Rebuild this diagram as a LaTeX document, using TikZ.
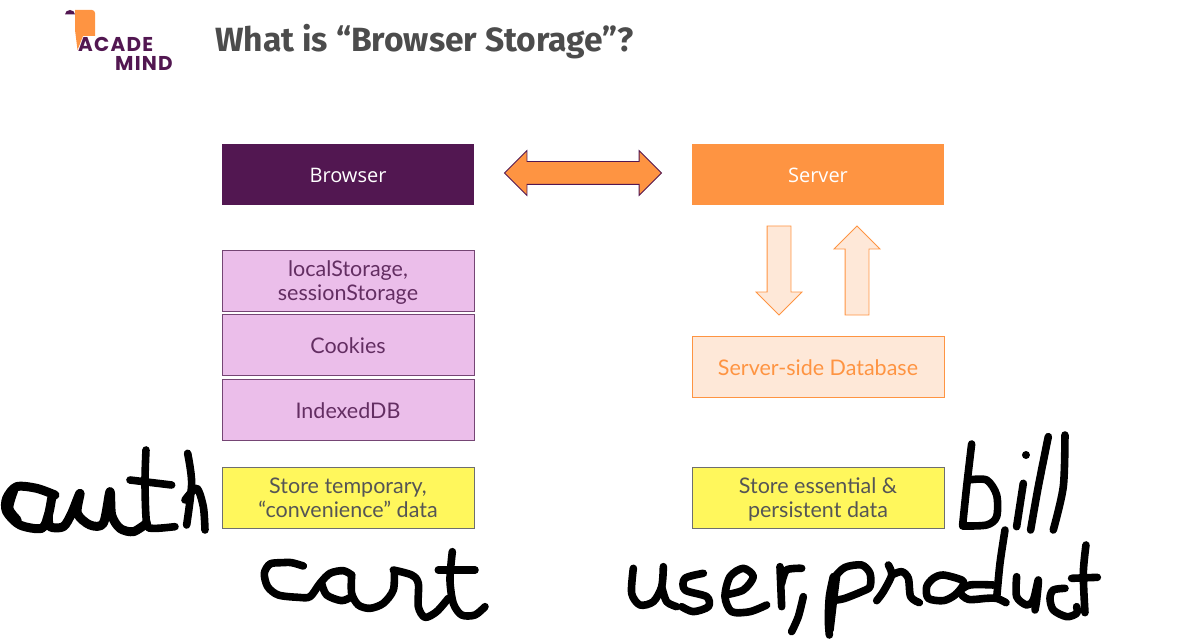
\documentclass[tikz,border=0pt]{standalone}
\usepackage{fontspec}
\setmainfont{Lato}
\newfontfamily\titlefont{Fira Sans}
\newfontfamily\headfont{Open Sans}
\newfontfamily\logofont[LetterSpace=6]{Poppins}
\usetikzlibrary{arrows.meta,positioning,calc,shapes.arrows}
\definecolor{browsercolor}{RGB}{82,23,81}
\definecolor{servercolor}{RGB}{254,148,66}
\definecolor{palecolor}{RGB}{254,232,216}
\definecolor{pinkcolor}{RGB}{235,190,234}
\definecolor{notecolor}{RGB}{255,247,92}
\definecolor{greycolor}{RGB}{85,85,85}
\tikzset{
  headbox/.style={minimum width=252pt, minimum height=61pt, inner sep=0pt, outer sep=0pt,
    align=center, font=\headfont\fontsize{20}{24}\selectfont, text=white,
    text height=20pt, text depth=3pt},
  storebox/.style={draw=browsercolor!80!white, line width=0.7pt, fill=pinkcolor, minimum width=252pt,
    minimum height=61pt, inner sep=0pt, outer sep=0pt, align=center,
    font=\fontsize{21.5}{24}\selectfont, text=browsercolor!90!white,
    execute at begin node={\rule{0pt}{19pt}}},
  notebox/.style={draw=greycolor!85!white, line width=0.9pt, fill=notecolor, minimum width=252pt,
    minimum height=61pt, inner sep=0pt, outer sep=0pt, align=center,
    font=\fontsize{21.5}{24}\selectfont, text=greycolor,
    execute at begin node={\rule{0pt}{19pt}}},
  dbarrow/.style={single arrow, draw=servercolor, line width=0.8pt, fill=palecolor, inner xsep=11.5pt,
    inner ysep=0pt, minimum height=89pt, single arrow head extend=11pt},
  inkln/.style={line width=7.6pt, line cap=round, line join=round, black},
}
\begin{document}
\begin{tikzpicture}[x=1pt, y=-1pt]
    \useasboundingbox (0,0) rectangle (1180,639);
    \node[headbox, fill=browsercolor, anchor=north west] (browser) at (222,144) {Browser};
    \node[headbox, fill=servercolor, right=218pt of browser] (server) {Server};
    \node[storebox, below=45pt of browser] (webstore) {localStorage,\\\smash{sessionStorage}};
    \node[storebox, below=3pt of webstore] (cookies) {Cookies};
    \node[storebox, below=4pt of cookies] (indexeddb) {IndexedDB};
    \node[notebox, below=27pt of indexeddb] (tempnote) {Store temporary,\\“convenience” data};
    \node[storebox, draw=servercolor, fill=palecolor, text=servercolor, below=131pt of server]
      (database) {Server-side Database};
    \node[notebox, below=70pt of database] (keepnote) {Store essential \&\\\smash{persistent data}};
    \node[double arrow, draw=browsercolor, line width=0.8pt, fill=servercolor, inner xsep=0pt,
      inner ysep=11pt, minimum height=157pt, double arrow head extend=11pt]
      (linkarrow) at ($(browser)!0.5!(server)+(0,-1.5)$) {};
    \node[dbarrow, shape border rotate=270, xshift=-39pt, yshift=6pt] (downarrow) at ($(server)!0.5!(database)$) {};
    \node[dbarrow, shape border rotate=90, xshift=39pt, yshift=-6pt] (uparrow) at ($(server)!0.5!(database)$) {};
    \node[anchor=west, inner sep=0pt, text=greycolor!90!black,
      font=\titlefont\bfseries\fontsize{33.6}{36}\selectfont] (title) at (215,42) {What is “Browser Storage”?};
    \fill[servercolor] (75,14.5) -- (75,10) -- (92,10) arc (-90:0:3) -- (95,36) -- (83,36) -- (77.5,50) -- (75,30) -- cycle;
    \fill[browsercolor] (65,14.5) arc (180:360:5 and 4.5) -- cycle;
    \node[anchor=base west, inner sep=0pt, text=browsercolor, font=\logofont\bfseries\fontsize{20}{20}\selectfont]
      (logotop) at (78,52) {ACADE};
    \node[anchor=base west, inner sep=0pt, text=browsercolor, font=\logofont\bfseries\fontsize{20}{20}\selectfont]
      (logobottom) at (115,71) {MIND};
    \begin{scope}[shift={(0,470)}, x=0.3333pt, y=-0.3333pt, inkln]
      \draw[line width=9pt] plot[smooth] coordinates {(165,75) (110,55) (50,50) (20,85) (20,125) (60,165) (125,175) (145,135) (155,85)};
      \draw[line width=10pt] plot[smooth] coordinates {(40,60) (25,115) (50,150)};
      \draw[line width=9pt] plot[smooth] coordinates {(145,135) (150,170) (190,170) (215,130) (240,70) (232,130) (270,165) (310,160) (330,65) (335,135) (360,175) (400,185) (440,160)};
    \end{scope}
    \begin{scope}[shift={(0,440)}, x=0.3333pt, y=-0.3333pt, inkln]
      \draw plot[smooth] coordinates {(438,30) (435,130) (440,250) (460,265) (525,260)};
      \draw (390,120) -- (515,135);
      \draw plot[smooth] coordinates {(563,40) (575,130) (560,255)};
      \draw plot[smooth] coordinates {(555,180) (590,145) (610,200) (615,270)};
    \end{scope}
    \begin{scope}[shift={(255,540)}, x=0.3333pt, y=-0.3333pt, inkln]
      \draw plot[smooth] coordinates {(145,78) (110,68) (80,68) (45,72) (28,100) (38,140) (70,165) (130,172) (165,170) (195,130) (225,100) (265,92) (290,105)};
      \draw plot[smooth] coordinates {(200,130) (215,165) (260,182) (290,170)};
      \draw plot[smooth] coordinates {(290,105) (290,160) (310,195) (345,205) (385,190) (415,150) (418,92)};
      \draw plot[smooth] coordinates {(415,90) (470,105) (490,130) (490,200) (510,232) (545,215) (580,175)};
      \draw plot[smooth] coordinates {(592,35) (585,120) (595,190) (620,225) (660,225) (690,200)};
      \draw (550,90) -- (660,90);
    \end{scope}
    \begin{scope}[shift={(610,420)}, x=0.3333pt, y=-0.3333pt, inkln]
      \draw plot[smooth] coordinates {(1085,72) (1070,200) (1058,315)};
      \draw plot[smooth] coordinates {(1075,180) (1130,180) (1160,225) (1160,290) (1130,315) (1058,318)};
      \draw plot[smooth] coordinates {(1240,190) (1220,320)};
      \fill (1248,105) circle (4pt);
      \draw plot[smooth] coordinates {(1315,50) (1285,200) (1262,330)};
      \draw plot[smooth] coordinates {(1365,45) (1360,200) (1330,330)};
      \draw plot[smooth] coordinates {(70,445) (65,520) (90,555) (130,545) (155,500) (160,440)};
      \draw plot[smooth] coordinates {(155,500) (170,545) (200,560)};
      \draw plot[smooth] coordinates {(280,460) (225,475) (225,510) (290,530) (295,560) (250,575) (215,560)};
      \draw plot[smooth] coordinates {(345,525) (400,510) (430,470) (400,445) (360,470) (345,530) (365,575) (420,575) (470,555)};
      \draw (510,440) -- (515,560);
      \draw plot[smooth] coordinates {(515,490) (530,450) (575,445)};
      \draw plot[smooth] coordinates {(580,530) (565,590) (545,635)};
    \end{scope}
    \begin{scope}[shift={(820,530)}, x=0.3333pt, y=-0.3333pt, inkln]
      \draw plot[smooth] coordinates {(40,140) (28,200) (25,270) (28,315)};
      \draw plot[smooth] coordinates {(50,135) (40,215) (30,300)};
      \draw plot[smooth] coordinates {(45,140) (75,112) (125,105) (150,130) (150,170) (125,185) (75,205) (50,210)};
      \draw plot[smooth] coordinates {(205,105) (215,135) (190,185) (170,212)};
      \draw plot[smooth] coordinates {(215,135) (245,125) (265,145) (272,200) (298,218)};
      \draw plot[smooth cycle] coordinates {(340,145) (320,170) (325,205) (370,212) (405,195) (430,165) (425,150) (370,135)};
      \draw plot[smooth] coordinates {(520,165) (450,165) (420,185) (445,208) (500,205) (530,205) (558,218)};
      \draw plot[smooth] coordinates {(555,0) (540,100) (530,205)};
      \draw plot[smooth] coordinates {(590,140) (590,200) (620,225) (640,210) (655,150) (650,210) (645,240)};
      \draw plot[smooth] coordinates {(735,175) (700,180) (690,205) (700,240) (740,260) (770,250) (770,230)};
      \draw plot[smooth] coordinates {(798,45) (790,130) (795,248)};
      \draw (755,145) -- (832,142);
    \end{scope}
  \end{tikzpicture}
\end{document}
